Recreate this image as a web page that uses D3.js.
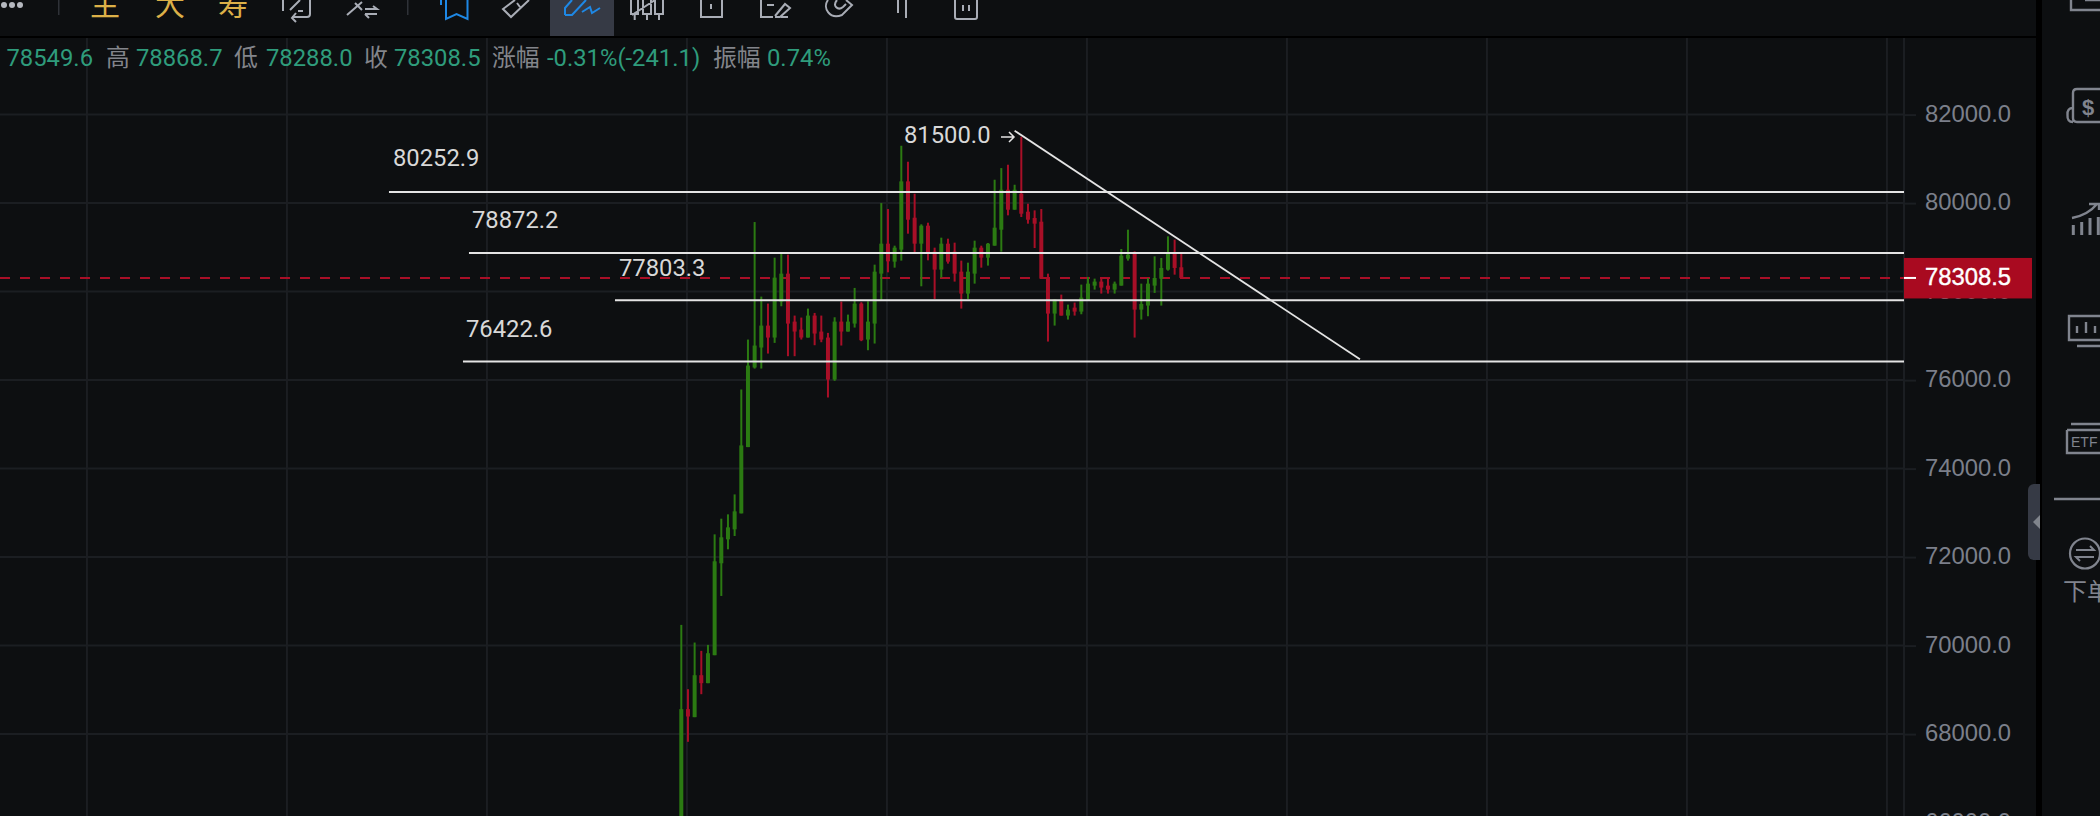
<!DOCTYPE html>
<html><head><meta charset="utf-8">
<script src="https://cdnjs.cloudflare.com/ajax/libs/d3/7.8.5/d3.min.js"></script>
<style>html,body{margin:0;padding:0;background:#0d0f11;overflow:hidden}svg{display:block}</style>
</head><body><svg id="c" width="2100" height="816"></svg>
<script>
// ---------- data ----------
const opens  = [66000,68564,68383,69331,69151,69783,71860,72402,72627,72988,74486,76284,76736,77232,76961,77774,78406,77322,77142,76961,77458,77097,76961,76013,77322,77097,77277,77729,76916,77277,78406,79083,78677,78948,80491,79670,79083,79490,78903,78497,79083,78903,78451,77955,78406,78993,78767,79038,79399,80302,79851,80212,79806,79663,79580,78316,77503,77797,77458,77638,77548,77819,78135,78226,78135,78045,78135,78745,78873,77593,77684,78135,78293,78496,78873,78549.6];
const highs  = [70468,69015,70069,69881,70016,72514,72868,72966,73417,75788,76916,79572,77887,77729,78767,78858,78835,77458,77413,77616,77518,77458,77067,77420,77774,77480,78083,77760,77781,78609,80001,79866,79038,81296,80935,80212,79520,79557,78993,79219,79196,79106,78700,78654,79151,79038,79098,80528,80791,80867,80415,81500,79986,79836,79866,78406,77819,77932,77706,77752,78158,78331,78293,78301,78316,78226,78963,79399,78910,78180,78308,78797,78760,79249,79174,78868.7];
const lows   = [65800,67826,68383,68902,69151,69783,71122,72176,72477,72988,74486,76260,76261,76600,76841,77669,76540,76540,76916,76961,76788,76856,75607,75983,76781,77097,77187,76880,76675,76826,77819,78436,78541,78700,79309,78873,78120,78707,77834,78316,78632,78226,77616,77834,78180,78541,78587,79038,78903,79723,79851,79685,79535,78985,78293,76871,77232,77458,77368,77458,77488,77804,78045,77955,77955,77955,78135,78700,76961,77368,77443,77970,77684,78474,78383,78288.0];
const closes = [68564,68398,69331,69151,69828,71905,72447,72672,73034,74524,76329,76781,77232,76961,78316,78406,77277,77097,76961,77458,77052,76916,76013,77322,77097,77322,77729,76901,77322,78451,79083,78684,78993,80491,79625,79083,79490,78858,78497,79083,78677,78406,77955,78451,78993,78767,79083,79445,80302,79851,80302,79760,79625,79535,78293,77503,77819,77458,77593,77548,77864,78180,78226,78090,78045,78180,78812,78835,77593,77721,78180,78308,78534,78873,78534,78308.5];
const priceTicks = [82000,80000,78000,76000,74000,72000,70000,68000,66000];
const gridBars = [-89.15,-59.15,-29.15,0.85,30.85,60.85,90.85,120.85,150.85,180.85];
const levels = [80252.9,78872.2,77803.3,76422.6];
const levelLabels = ["80252.9","78872.2","77803.3","76422.6"];
const levelStartBars = [-43.85,-31.85,-9.95,-32.75];
const lastPrice = 78308.5;
const trendBars = [50,101.8];
const trendPrices = [81634,76470];
const peakLabel = "81500.0";
const legendTexts = ["78549.6","高","78868.7","低","78288.0","收","78308.5","涨幅","-0.31%(-241.1)","振幅","0.74%"];
const toolbarLabels = ["主","大","寿"];

// ---------- scales ----------
const x = d3.scaleLinear().domain([0,75]).range([681.3,1181.3]);
const y = d3.scaleLinear().domain([82000,66000]).range([114.6,822.6]);
const candles = opens.map((o,i)=>({i,o,h:highs[i],l:lows[i],c:closes[i]}));

const svg = d3.select("#c");
const FONT = "Roboto, sans-serif";
const bg="#0d0f11", grid="#1b1e22", up="#2b7a12", down="#a80f27", white="#e4e4e4";

svg.append("rect").attr("width",2100).attr("height",816).attr("fill",bg);

// grid
const g = svg.append("g");
g.selectAll(".gh").data(priceTicks).join("line")
 .attr("x1",0).attr("x2",1904).attr("y1",d=>y(d)).attr("y2",d=>y(d))
 .attr("stroke",grid).attr("stroke-width",2);
g.selectAll(".gv").data(gridBars).join("line")
 .attr("x1",d=>x(d)).attr("x2",d=>x(d)).attr("y1",38).attr("y2",816)
 .attr("stroke",grid).attr("stroke-width",2);
g.append("line").attr("x1",1904).attr("x2",1904).attr("y1",38).attr("y2",816).attr("stroke",grid).attr("stroke-width",2);

// last price dashed
svg.append("line").attr("x1",0).attr("x2",1904).attr("y1",y(lastPrice)).attr("y2",y(lastPrice))
 .attr("stroke",down).attr("stroke-width",2).attr("stroke-dasharray","10 10");

// candles
const cg = svg.append("g");
cg.selectAll(".w").data(candles).join("rect")
 .attr("x",d=>x(d.i)-1).attr("width",2)
 .attr("y",d=>y(d.h)).attr("height",d=>y(d.l)-y(d.h))
 .attr("fill",d=>d.c>=d.o?up:down);
cg.selectAll(".b").data(candles).join("rect")
 .attr("x",d=>x(d.i)-2).attr("width",4)
 .attr("y",d=>y(Math.max(d.o,d.c))).attr("height",d=>Math.max(2,Math.abs(y(d.o)-y(d.c))))
 .attr("fill",d=>d.c>=d.o?up:down);

// levels
const lg = svg.append("g");
lg.selectAll("line").data(levels).join("line")
 .attr("x1",(d,i)=>x(levelStartBars[i])).attr("x2",1904)
 .attr("y1",d=>y(d)).attr("y2",d=>y(d)).attr("stroke",white).attr("stroke-width",2);
lg.selectAll("text").data(levels).join("text")
 .attr("x",(d,i)=>x(levelStartBars[i])+[4,3,4,3][i]).attr("y",(d,i)=>y(d)-[25.5,25,24.5,24][i])
 .attr("font-family",FONT).attr("font-size",23.8).attr("fill","#d8d8d8")
 .text((d,i)=>levelLabels[i]);

// trend
svg.append("line").attr("x1",x(trendBars[0])).attr("x2",x(trendBars[1]))
 .attr("y1",y(trendPrices[0])).attr("y2",y(trendPrices[1])).attr("stroke",white).attr("stroke-width",1.8);
svg.append("text").attr("x",904).attr("y",142.5).attr("font-family",FONT).attr("font-size",23.8).attr("fill","#d8d8d8").text(peakLabel);
svg.append("path").attr("d","M1001 137H1014M1009 132L1014 137L1009 142").attr("fill","none").attr("stroke",white).attr("stroke-width",1.5);

// legend line
const legendX=[6.5,106,136,234,266,364,394,492,547,713,767];
const legendCol=["#2f9c7c","#83858b","#2f9c7c","#83858b","#2f9c7c","#83858b","#2f9c7c","#83858b","#2f9c7c","#83858b","#2f9c7c"];
svg.append("g").selectAll("text").data(legendTexts).join("text")
 .attr("x",(d,i)=>legendX[i]).attr("y",65.5)
 .attr("font-family",'Roboto, "Noto Sans CJK SC", sans-serif').attr("font-size",23.8)
 .attr("fill",(d,i)=>legendCol[i]).text(d=>d);

// price axis
const ax = svg.append("g").attr("transform","translate(1904,0)")
 .call(d3.axisRight(y).tickValues(priceTicks).tickFormat(d3.format(".1f")).tickSize(12).tickPadding(9));
ax.select(".domain").remove();
ax.selectAll("line").attr("stroke",grid).attr("stroke-width",2);
ax.selectAll("text").attr("font-family",'"Liberation Sans", Arial, sans-serif').attr("font-size",23.8).attr("fill","#7b7f8a").attr("dy","0.27em");

// last price tag
svg.append("rect").attr("x",1904).attr("width",128).attr("y",y(lastPrice)-20).attr("height",40.5).attr("fill","#a90a20");
svg.append("line").attr("x1",1904).attr("x2",1916).attr("y1",y(lastPrice)).attr("y2",y(lastPrice)).attr("stroke","#fff").attr("stroke-width",2);
svg.append("text").attr("x",1925).attr("y",y(lastPrice)+7.5).attr("font-family",'"Liberation Sans", Arial, sans-serif').attr("font-size",23.8).attr("fill","#fff").attr("stroke","#fff").attr("stroke-width",.4).text(d3.format(".1f")(lastPrice));

// chrome: toolbar
svg.append("rect").attr("y",0).attr("width",2036).attr("height",36).attr("fill",bg);
svg.append("rect").attr("y",36).attr("width",2036).attr("height",2).attr("fill","#000");
svg.append("rect").attr("x",550).attr("y",0).attr("width",64).attr("height",36).attr("fill","#363a45");
const tb = svg.append("g");
[4,12,20].forEach(cx=>tb.append("circle").attr("cx",cx).attr("cy",5).attr("r",3).attr("fill","#b5b8bf"));
[58,407].forEach(px=>tb.append("rect").attr("x",px).attr("y",0).attr("width",1.5).attr("height",15).attr("fill","#2f3238"));
tb.selectAll("text").data(toolbarLabels).join("text")
 .attr("x",(d,i)=>[90,155,218][i]).attr("y",14.5)
 .attr("font-family",'"Noto Sans CJK SC", sans-serif').attr("font-size",30).attr("fill","#dcb048").text(d=>d);
const icons=[
 ["M283 0V11M310 0V14Q310 17 307 17H292M296 13L292 18L296 22M290 10L300 0M298 11H303","#a9adb6"],
 ["M347 15L362 2M355 3L362 10M365 9H377L373 6M365 14H377M365 14L369 18","#a9adb6"],
 ["M441 0V5M446 0V19L456.5 14L467.5 19V0","#1e88e5"],
 ["M515 0L503 9L511 17L529 0M517 3L520 7","#a9adb6"],
 ["M565 15V8L572 0M565 15H572L586 0M582 12L590 7L592 13L600 8","#1e88e5"],
 ["M631 0V14H638V0M643 0V14H651V0M655 0V14H663V0M634.7 14V20M647 14V20M659 14V20M632 15L655 0","#a9adb6"],
 ["M701 0V17H722V0M711 4V9","#a9adb6"],
 ["M761 0V17H773M767 5H774M775 16L785 4L790 8L780 17H775M781 17H788","#a9adb6"],
 ["M828 0C822 8 830 20 842 15L852 5L846 0M837 0C832 6 838 11 843 7L846 4","#a9adb6"],
 ["M898 0V13M906 0V18","#a9adb6"],
 ["M955 0V17Q955 19 957 19H975Q977 19 977 17V0M963 5V11M969 5V11","#a9adb6"]
];
svg.append("g").selectAll("path").data(icons).join("path").attr("d",d=>d[0]).attr("stroke",d=>d[1]).attr("stroke-width",2).attr("fill","none");

// right side
svg.append("rect").attr("x",2036).attr("width",6).attr("height",816).attr("fill","#000");
svg.append("rect").attr("x",2042).attr("width",58).attr("height",816).attr("fill",bg);
svg.append("path").attr("d","M2034 484H2040V560H2034A6 6 0 0 1 2028 554V490A6 6 0 0 1 2034 484Z").attr("fill","#363a45");
svg.append("path").attr("d","M2033 522L2040 515V529Z").attr("fill","#80848c");
const side=[
 "M2071 0V10H2100M2085 0H2100",
 "M2100 89H2077Q2073 89 2073 93V118Q2073 122 2077 122H2100M2073 108Q2067 108 2067.5 115Q2067 122 2073 122",
 "M2072 218Q2088 215 2097 204M2089 204H2099V210",
 "M2100 316H2069V340H2100M2077 346H2100M2077 333V326M2086 333V322M2095 333V326",
 "M2071 424H2100M2067 430H2100M2067 430V453H2100",
 "M2054 499H2100"
];
svg.append("g").selectAll("path").data(side).join("path").attr("d",d=>d).attr("stroke","#80848e").attr("stroke-width",2.4).attr("fill","none");
svg.append("g").selectAll("path").data(["M2073.3 235V225","M2081.7 235V222","M2090 235V218","M2098.3 235V217"]).join("path").attr("d",d=>d).attr("stroke","#80848e").attr("stroke-width",3);
svg.append("text").attr("x",2088).attr("y",115).attr("font-family","Liberation Sans").attr("font-weight","bold").attr("font-size",22).attr("fill","#80848e").attr("text-anchor","middle").text("$");
svg.append("text").attr("x",2071).attr("y",447).attr("font-family","Liberation Sans").attr("font-size",14).attr("fill","#80848e").text("ETF");
svg.append("circle").attr("cx",2085).attr("cy",553.5).attr("r",15).attr("fill","none").attr("stroke","#80848e").attr("stroke-width",2.2);
svg.append("path").attr("d","M2076 550H2094L2090 546M2094 557H2076L2080 561").attr("fill","none").attr("stroke","#80848e").attr("stroke-width",2);
svg.append("text").attr("x",2063).attr("y",600).attr("font-family",'"Noto Sans CJK SC", sans-serif').attr("font-size",24).attr("fill","#80848e").text("下单");
</script></body></html>
